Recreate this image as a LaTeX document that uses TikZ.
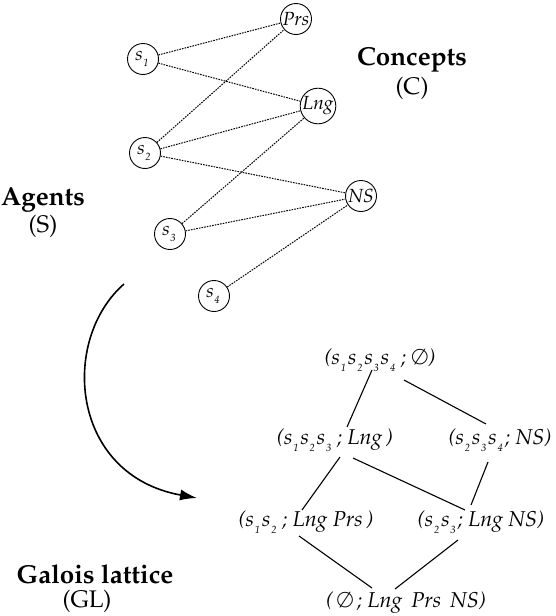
\documentclass[tikz,border=0pt]{standalone}
\usepackage[T1]{fontenc}
\usepackage{mathpazo}
\usetikzlibrary{arrows.meta}
\newcommand{\sx}[1]{\textit{s}\kern0.8pt\raisebox{-0.65ex}{\fontsize{10.5}{10.5}\selectfont\itshape #1}\kern2pt}
\begin{document}
\begin{tikzpicture}[x=1pt,y=-1pt,
  ag/.style={circle,draw,line width=0.9pt,minimum size=31pt,inner sep=0pt,font=\fontsize{19}{21}\selectfont\itshape},
  rel/.style={line width=1pt,dash pattern=on 1.6pt off 1.1pt},
  lat/.style={inner sep=0pt,font=\fontsize{21.5}{24}\selectfont\itshape},
  hasse/.style={line width=1.1pt},
  ttl/.style={inner sep=0pt,font=\fontsize{26}{28}\selectfont\bfseries},
  sub/.style={inner sep=0pt,font=\fontsize{24}{26}\selectfont}
]
\useasboundingbox (0,0) rectangle (556,616);
% bipartite graph
\node[ag] (Prs) at (296,19) {Prs};
\node[ag] (Lng) at (318,106) {Lng};
\node[ag] (NS)  at (361,196) {NS};
\node[ag] (s1) at (143,59) {\sx{1}};
\node[ag] (s2) at (145,153) {\sx{2}};
\node[ag] (s3) at (170,234) {\sx{3}};
\node[ag] (s4) at (214,296) {\sx{4}};
\draw[rel] (s1) -- (Prs);
\draw[rel] (s1) -- (Lng);
\draw[rel] (s2) -- (Prs);
\draw[rel] (s2) -- (Lng);
\draw[rel] (s2) -- (NS);
\draw[rel] (s3) -- (Lng);
\draw[rel] (s3) -- (NS);
\draw[rel] (s4) -- (NS);
% titles
\node[ttl] (tC) at (412,60) {Concepts};
\node[sub] (tCs) at (412,88) {(C)};
\node[ttl] (tS) at (43,200) {Agents};
\node[sub] (tSs) at (43,226) {(S)};
\node[ttl] (tG) at (95,574) {Galois lattice};
\node[sub] (tGs) at (87,601) {(GL)};
% lattice
\node[lat] (top) at (380,360) {(\sx{1}\sx{2}\sx{3}\sx{4}\,; $\emptyset$)};
\node[lat] (ml) at (335,440) {(\sx{1}\sx{2}\sx{3}\,; Lng\,)};
\node[lat] (mr) at (500,440) {(\sx{2}\sx{3}\sx{4}; NS)};
\node[lat] (ll) at (306,522) {(\sx{1}\sx{2}\,; Lng Prs\,)};
\node[lat] (lr) at (481,522) {(\sx{2}\sx{3}; Lng NS)};
\node[lat] (bot) at (406,603) {(\,$\emptyset$\,; Lng\, Prs\, NS)};
\draw[hasse] ([shift={(-8,10)}]top.center) -- ([shift={(12,-13)}]ml.center);
\draw[hasse] ([shift={(24,20)}]top.center) -- ([shift={(-14,-16)}]mr.center);
\draw[hasse] ([shift={(5,17)}]ml.center) -- ([shift={(-4,-12)}]ll.center);
\draw[hasse] ([shift={(18,18)}]ml.center) -- ([shift={(-16,-12)}]lr.center);
\draw[hasse] ([shift={(-12,22)}]mr.center) -- ([shift={(-10,-17)}]lr.center);
\draw[hasse] ([shift={(-7,14)}]ll.center) -- ([shift={(-34,-15)}]bot.center);
\draw[hasse] ([shift={(-23,18)}]lr.center) -- ([shift={(-11,-14)}]bot.center);
% arrow
\coordinate (a0) at (124,284);
\coordinate (a1) at (197,498);
\draw[line width=1.6pt,-{Latex[length=17pt,width=11pt]}] (a0) .. controls (60,340) and (70,475) .. (a1);
\end{tikzpicture}
\end{document}
